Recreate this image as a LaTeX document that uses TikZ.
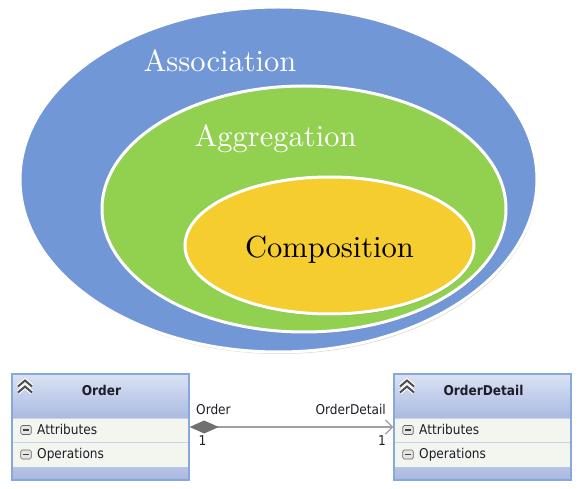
\documentclass[tikz,border=0pt]{standalone}
\usepackage{fontspec}
\newfontfamily\umlfont{DejaVu Sans Condensed}
\newfontfamily\cmten{lmroman10-regular}[Extension=.otf]
\usetikzlibrary{arrows.meta,shadows}
\definecolor{assoccol}{HTML}{7297D6}
\definecolor{aggrcol}{HTML}{92D050}
\definecolor{compcol}{HTML}{F5CD2E}
\definecolor{hdtop}{HTML}{DAE2F4}
\definecolor{hdbot}{HTML}{AABAE1}
\definecolor{rowbg}{HTML}{F3F5EF}
\definecolor{rowsep}{HTML}{C6D4EC}
\definecolor{ftop}{HTML}{B8C4E6}
\definecolor{fbot}{HTML}{A8B7DF}
\definecolor{umlborder}{HTML}{86A8DA}
\definecolor{umltxt}{HTML}{1E1E28}
\definecolor{connline}{HTML}{A0A0A0}
\definecolor{diamondcol}{HTML}{707070}
\definecolor{chevcol}{HTML}{4A4A4A}
\tikzset{
  setfill/.style={draw=white, line width=3pt,
    drop shadow={opacity=0.3, shadow xshift=1pt, shadow yshift=-2pt}},
  bigtext/.style={anchor=base, inner sep=0pt, font=\cmten\fontsize{30.5}{36}\selectfont},
  umltext/.style={inner sep=0pt, text=umltxt, font=\umlfont\fontsize{13.5}{16}\selectfont},
  umltitle/.style={umltext, font=\umlfont\bfseries\fontsize{13.5}{16}\selectfont},
  umlframe/.style={draw=umlborder, line width=1.3pt, minimum width=177pt, minimum height=106pt, inner sep=0pt},
  minusicon/.style={draw=gray!80!black, fill=white!80!gray, rounded corners=1.5pt, line width=0.7pt,
    minimum width=10.5pt, minimum height=9pt, inner sep=0pt,
    path picture={\draw[black!75, line width=1.4pt]
      ([xshift=2.4pt]path picture bounding box.west) -- ([xshift=-2.4pt]path picture bounding box.east);}},
  chevw/.style={draw=white, line width=4.2pt, line join=miter},
  chevd/.style={draw=chevcol, line width=2pt, line join=miter},
  conn/.style={draw=connline, line width=1.3pt,
    {Diamond[length=29pt,width=13pt,fill=diamondcol,color=diamondcol]}-{Straight Barb[length=7pt,width=14pt,color=connline]}}
}
\begin{document}
\begin{tikzpicture}[x=1pt,y=-1pt]
\useasboundingbox[fill=white] (0,0) rectangle (584,489);

% nested sets
\path[setfill, fill=assoccol] (278.5,179.5) ellipse [x radius=258.5pt, y radius=172.5pt];
\path[setfill, fill=aggrcol] (304,209) ellipse [x radius=202pt, y radius=123pt];
\path[setfill, fill=compcol] (329.5,245.5) ellipse [x radius=144.5pt, y radius=68.5pt];

\node[bigtext, text=white] (assoc) at (220,72) {Association};
\node[bigtext, text=white] (aggr) at (275.5,147) {Aggregation};
\node[bigtext, text=black] (comp) at (329.5,258) {Composition};

% UML classes
\foreach \cx/\nm/\ttl in {100.5/order/Order, 482.5/detail/OrderDetail}{
  \shade[top color=hdtop, bottom color=hdbot] (\cx-88.5,374) rectangle (\cx+88.5,418);
  \fill[rowbg] (\cx-88.5,418) rectangle (\cx+88.5,467);
  \draw[rowsep, line width=0.8pt] (\cx-88.5,418) -- (\cx+88.5,418);
  \draw[rowsep, line width=0.8pt] (\cx-88.5,442) -- (\cx+88.5,442);
  \shade[top color=ftop, bottom color=fbot] (\cx-88.5,467) rectangle (\cx+88.5,480);
  \node[umlframe] (\nm) at (\cx,427) {};
  \draw[chevw] (\cx-82.5,386.5) -- (\cx-75.5,380.5) -- (\cx-68.5,386.5);
  \draw[chevw] (\cx-82.5,392.5) -- (\cx-75.5,386.5) -- (\cx-68.5,392.5);
  \draw[chevd] (\cx-82.5,386.5) -- (\cx-75.5,380.5) -- (\cx-68.5,386.5);
  \draw[chevd] (\cx-82.5,392.5) -- (\cx-75.5,386.5) -- (\cx-68.5,392.5);
  \node[umltitle, anchor=base] (\nm-title) at (\cx+1,395) {\ttl};
  \node[minusicon] (\nm-m1) at (\cx-74.5,430) {};
  \node[minusicon] (\nm-m2) at (\cx-74.5,454.5) {};
  \node[umltext, anchor=base west] (\nm-attr) at (\cx-63.5,434.5) {Attributes};
  \node[umltext, anchor=base west] (\nm-ops) at (\cx-63.5,458.5) {Operations};
}

% association connector
\draw[conn] (order.east) -- (detail.west);
\node[umltext, anchor=base west] (lbl-o) at (196,414) {Order};
\node[umltext, anchor=base east] (lbl-od) at (386,414) {OrderDetail};
\node[umltext, anchor=base] (m-o) at (202.5,445) {1};
\node[umltext, anchor=base] (m-od) at (382,445) {1};
\end{tikzpicture}
\end{document}
